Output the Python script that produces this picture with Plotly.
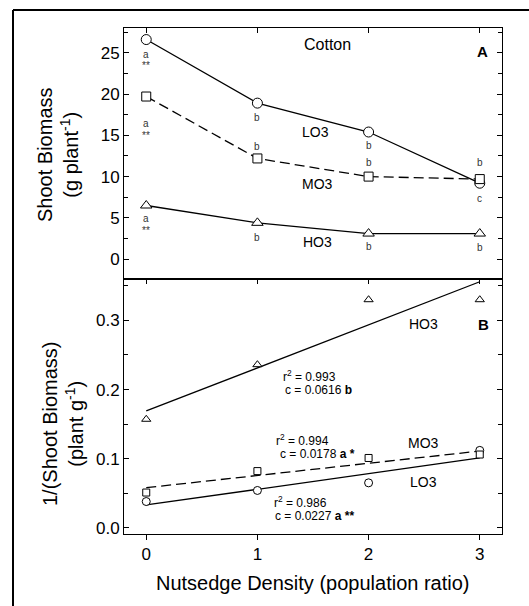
import plotly.graph_objects as go

# ---------------- data ----------------
density = [0, 1, 2, 3]
xtick_labels = ["0", "1", "2", "3"]

# Panel A: shoot biomass (g plant-1)
lo3_biomass = [26.6, 18.9, 15.4, 9.2]
mo3_biomass = [19.7, 12.2, 10.0, 9.7]
ho3_biomass = [6.5, 4.4, 3.1, 3.1]

# Panel B: 1/(shoot biomass) (plant g-1)
lo3_inv = [0.038, 0.054, 0.065, 0.112]
mo3_inv = [0.051, 0.082, 0.101, 0.106]
ho3_inv = [0.157, 0.236, 0.330, 0.330]

# regression lines (values at density 0 and 3)
fit_x = [0, 3]
lo3_fit = [0.033, 0.101]
mo3_fit = [0.058, 0.111]
ho3_fit = [0.169, 0.356]

# significance letters panel A: (x, y, text)
letters_x = [0, 0, 0, 0, 0, 0, 1, 1, 1, 2, 2, 2, 3, 3, 3]
letters_y = [24.8, 23.4, 16.4, 15.0, 4.9, 3.5, 17.2, 13.6, 2.6, 13.8, 11.7, 1.5, 11.7, 7.3, 1.4]
letters_t = ["a", "**", "a", "**", "a", "**", "b", "b", "b", "b", "b", "b", "b", "c", "b"]

FONT = "Arial, Liberation Sans, sans-serif"

fig = go.Figure()

def line_trace(x, y, sym, dash, xa, ya, size):
    return go.Scatter(
        x=x, y=y, xaxis=xa, yaxis=ya, mode="lines+markers",
        line=dict(color="black", width=1.3, dash=dash),
        marker=dict(symbol=sym, size=size, color="white",
                    line=dict(color="black", width=1)),
        showlegend=False, hoverinfo="skip")

def fit_trace(x, y, dash):
    return go.Scatter(x=x, y=y, xaxis="x2", yaxis="y2", mode="lines",
                      line=dict(color="black", width=1.3, dash=dash),
                      showlegend=False, hoverinfo="skip")

def pts_trace(x, y, sym, size):
    return go.Scatter(x=x, y=y, xaxis="x2", yaxis="y2", mode="markers",
                      marker=dict(symbol=sym, size=size, color="white",
                                  line=dict(color="black", width=1)),
                      showlegend=False, hoverinfo="skip")

DASH = "10px,5px"
# panel A
fig.add_trace(line_trace(density, lo3_biomass, "circle", "solid", "x", "y", 10))
fig.add_trace(line_trace(density, mo3_biomass, "square", DASH, "x", "y", 9))
fig.add_trace(line_trace(density, ho3_biomass, "triangle-up", "solid", "x", "y", 10))

# panel B
fig.add_trace(fit_trace(fit_x, ho3_fit, "solid"))
fig.add_trace(fit_trace(fit_x, mo3_fit, DASH))
fig.add_trace(fit_trace(fit_x, lo3_fit, "solid"))
fig.add_trace(pts_trace(density, ho3_inv, "triangle-up", 8))
fig.add_trace(pts_trace(density, lo3_inv, "circle", 8))
fig.add_trace(pts_trace(density, mo3_inv, "square", 7))

# invisible trace for overlay axis
fig.add_trace(go.Scatter(x=[0], y=[0], xaxis="x3", yaxis="y2", mode="markers",
                         marker=dict(opacity=0), showlegend=False, hoverinfo="skip"))

XR = [-0.2, 3.2]
common = dict(showline=True, linecolor="black", linewidth=1, showgrid=False,
              zeroline=False, tickcolor="black", ticklen=5, tickwidth=1,
              tickfont=dict(family=FONT, size=17, color="black"))

fig.update_layout(
    width=529, height=606,
    margin=dict(l=124, r=27, t=28, b=72),
    paper_bgcolor="white", plot_bgcolor="white",
    font=dict(family=FONT, color="black"),
    xaxis=dict(common, domain=[0, 1], anchor="y", range=XR, side="top",
               ticks="inside", mirror=True, tickvals=density,
               showticklabels=False),
    xaxis2=dict(common, domain=[0, 1], anchor="y2", range=XR, side="bottom",
                ticks="outside", mirror=True, tickvals=density,
                ticktext=xtick_labels),
    xaxis3=dict(common, overlaying="x2", anchor="y2", range=XR, side="top",
                ticks="inside", showline=False, tickvals=density,
                showticklabels=False),
    yaxis=dict(common, domain=[0.504, 1], anchor="x", range=[-2.4, 28],
               ticks="inside", mirror="ticks", tick0=0, dtick=5,
               minor=dict(dtick=2.5, tick0=0, ticks="inside", ticklen=4,
                          tickcolor="black")),
    yaxis2=dict(common, domain=[0, 0.504], anchor="x2", range=[-0.009, 0.36],
                ticks="inside", mirror="ticks", tick0=0, dtick=0.1,
                tickformat=".1f",
                minor=dict(dtick=0.05, tick0=0, ticks="inside", ticklen=4,
                           tickcolor="black")),
)

ann = []
def px_ann(x, y, text, size, xanchor="center", bold=False, color="black"):
    if bold:
        text = "<b>" + text + "</b>"
    ann.append(dict(xref="paper", yref="paper",
                    x=(x - 124) / 378, y=(534 - y) / 506, text=text,
                    showarrow=False, xanchor=xanchor, yanchor="middle",
                    font=dict(family=FONT, size=size, color=color)))

# axis titles
ann.append(dict(xref="paper", yref="paper", x=(58 - 124) / 378, y=(534 - 155) / 506,
                text="Shoot Biomass<br>(g plant<sup>-1</sup>)", textangle=-90,
                showarrow=False, xanchor="center", yanchor="middle",
                font=dict(family=FONT, size=20, color="black")))
ann.append(dict(xref="paper", yref="paper", x=(63 - 124) / 378, y=(534 - 424) / 506,
                text="1/(Shoot Biomass)<br>(plant g<sup>-1</sup>)", textangle=-90,
                showarrow=False, xanchor="center", yanchor="middle",
                font=dict(family=FONT, size=20, color="black")))
px_ann(313, 583, "Nutsedge Density (population ratio)", 20)

# panel labels
px_ann(327, 44, "Cotton", 16)
px_ann(482, 52, "A", 15, bold=True)
px_ann(315, 132, "LO3", 14)
px_ann(317, 184, "MO3", 14)
px_ann(317, 242, "HO3", 14)
px_ann(483, 325, "B", 15, bold=True)
px_ann(423, 324, "HO3", 14)
px_ann(423, 443, "MO3", 14)
px_ann(423, 482, "LO3", 14)

# regression statistics
px_ann(281, 376, "r<sup>2</sup> = 0.993", 12, xanchor="left")
px_ann(283, 390, "c = 0.0616 <b>b</b>", 12, xanchor="left")
px_ann(274, 440, "r<sup>2</sup> = 0.994", 12, xanchor="left")
px_ann(278, 454, "c = 0.0178 <b>a *</b>", 12, xanchor="left")
px_ann(272, 502, "r<sup>2</sup> = 0.986", 12, xanchor="left")
px_ann(273, 516, "c = 0.0227 <b>a **</b>", 12, xanchor="left")

# significance letters (data coordinates, panel A)
for lx, ly, lt in zip(letters_x, letters_y, letters_t):
    ann.append(dict(xref="x", yref="y", x=lx, y=ly, text=lt, showarrow=False,
                    xanchor="center", yanchor="middle",
                    font=dict(family=FONT, size=10, color="#333333")))

fig.update_layout(annotations=ann)

# outer frame (left and top edges visible in the picture), kept within the page
fx = (13 - 124) / 378
fy = (534 - 10) / 506
fx_end = (529 - 124) / 378
fy_end = (534 - 606) / 506
fig.add_shape(type="line", xref="paper", yref="paper",
              x0=fx, y0=fy, x1=fx, y1=fy_end,
              line=dict(color="black", width=2), layer="above")
fig.add_shape(type="line", xref="paper", yref="paper",
              x0=fx, y0=fy, x1=fx_end, y1=fy,
              line=dict(color="black", width=2), layer="above")

fig.write_html("out.html")

# remove default page margin / scrollbars
with open("out.html", "r", encoding="utf-8") as f:
    html = f.read()
html = html.replace("<head>", "<head><style>html,body{margin:0;padding:0;overflow:hidden;}</style>", 1)
with open("out.html", "w", encoding="utf-8") as f:
    f.write(html)
